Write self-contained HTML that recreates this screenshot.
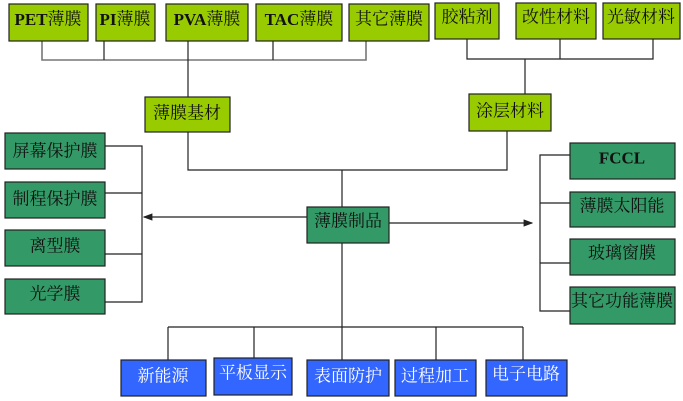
<!DOCTYPE html>
<html><head><meta charset="utf-8"><style>
html,body{margin:0;padding:0;background:#fff;}
svg{display:block}
text{font-family:"Liberation Serif","Noto Serif CJK SC",serif;font-size:17px;fill:#111;text-anchor:middle;dominant-baseline:central}
.lg{fill:#99cc00;stroke:#222;stroke-width:1.2}
.dg{fill:#339966;stroke:#222;stroke-width:1.2}
.bl{fill:#3366ff;stroke:#222;stroke-width:1.2}
text.w{fill:#fff}
line,polyline{stroke:#222;stroke-width:1.2;fill:none}
</style></head><body>
<svg width="683" height="401" viewBox="0 0 683 401">
<defs><marker id="a" markerWidth="8" markerHeight="8" refX="7" refY="4" orient="auto"><path d="M0,1 L8,4 L0,7z" fill="#222"/></marker></defs>
<polyline points="42,41 42,60 366,60 366,41" style="stroke:#777;stroke-width:1.6"/>
<line x1="104" y1="41" x2="104" y2="60"/><line x1="188" y1="41" x2="188" y2="97"/><line x1="273" y1="41" x2="273" y2="60"/>
<polyline points="467,39 467,59 653,59 653,39"/><line x1="560" y1="39" x2="560" y2="59"/><line x1="525" y1="59" x2="525" y2="94"/>
<polyline points="188,132 188,170 507,170 507,131"/>
<line x1="342" y1="170" x2="342" y2="207"/>
<polyline points="105,146 142,146 142,302 105,302"/>
<line x1="105" y1="193" x2="142" y2="193"/><line x1="105" y1="254" x2="142" y2="254"/>
<line x1="307" y1="217" x2="144" y2="217" marker-end="url(#a)"/>
<line x1="389" y1="223" x2="532" y2="223" marker-end="url(#a)"/>
<polyline points="570,155 540,155 540,311 570,311"/>
<line x1="540" y1="203" x2="570" y2="203"/><line x1="540" y1="263" x2="570" y2="263"/>
<line x1="342" y1="243" x2="342" y2="327"/>
<line x1="168" y1="327" x2="523" y2="327"/>
<line x1="168" y1="327" x2="168" y2="360"/><line x1="254" y1="327" x2="254" y2="358"/><line x1="342" y1="327" x2="342" y2="360"/><line x1="436" y1="327" x2="436" y2="360"/><line x1="523" y1="327" x2="523" y2="360"/>
<rect class="lg" x="9" y="4" width="79" height="37"/><text x="48" y="19"><tspan font-weight="bold">PET</tspan>薄膜</text>
<rect class="lg" x="96" y="4" width="59" height="37"/><text x="125" y="19"><tspan font-weight="bold">PI</tspan>薄膜</text>
<rect class="lg" x="166" y="4" width="82" height="37"/><text x="207" y="19"><tspan font-weight="bold">PVA</tspan>薄膜</text>
<rect class="lg" x="256" y="4" width="86" height="37"/><text x="299" y="19"><tspan font-weight="bold">TAC</tspan>薄膜</text>
<rect class="lg" x="349" y="4" width="80" height="37"/><text x="389" y="19">其它薄膜</text>
<rect class="lg" x="435" y="3" width="64" height="36"/><text x="467" y="17">胶粘剂</text>
<rect class="lg" x="516" y="3" width="80" height="36"/><text x="556" y="17">改性材料</text>
<rect class="lg" x="603" y="3" width="77" height="36"/><text x="641" y="17">光敏材料</text>
<rect class="lg" x="145" y="97" width="85" height="35"/><text x="187" y="113">薄膜基材</text>
<rect class="lg" x="469" y="94" width="82" height="37"/><text x="510" y="111">涂层材料</text>
<rect class="dg" x="5" y="133" width="100" height="36"/><text x="55" y="151">屏幕保护膜</text>
<rect class="dg" x="5" y="182" width="100" height="36"/><text x="55" y="199">制程保护膜</text>
<rect class="dg" x="5" y="230" width="100" height="36"/><text x="55" y="246">离型膜</text>
<rect class="dg" x="5" y="279" width="100" height="35"/><text x="55" y="294">光学膜</text>
<rect class="dg" x="307" y="207" width="82" height="36"/><text x="348" y="221">薄膜制品</text>
<rect class="dg" x="570" y="143" width="105" height="36"/><text x="622" y="158" font-weight="bold">FCCL</text>
<rect class="dg" x="570" y="192" width="105" height="35"/><text x="622" y="206">薄膜太阳能</text>
<rect class="dg" x="570" y="239" width="105" height="36"/><text x="622" y="253">玻璃窗膜</text>
<rect class="dg" x="570" y="287" width="105" height="37"/><text x="622" y="301">其它功能薄膜</text>
<rect class="bl" x="121" y="360" width="85" height="36"/><text class="w" x="163" y="376">新能源</text>
<rect class="bl" x="214" y="358" width="78" height="37"/><text class="w" x="253" y="373">平板显示</text>
<rect class="bl" x="307" y="360" width="82" height="36"/><text class="w" x="348" y="376">表面防护</text>
<rect class="bl" x="395" y="360" width="81" height="36"/><text class="w" x="435" y="376">过程加工</text>
<rect class="bl" x="486" y="360" width="81" height="36"/><text class="w" x="526" y="374">电子电路</text>
</svg>
</body></html>
